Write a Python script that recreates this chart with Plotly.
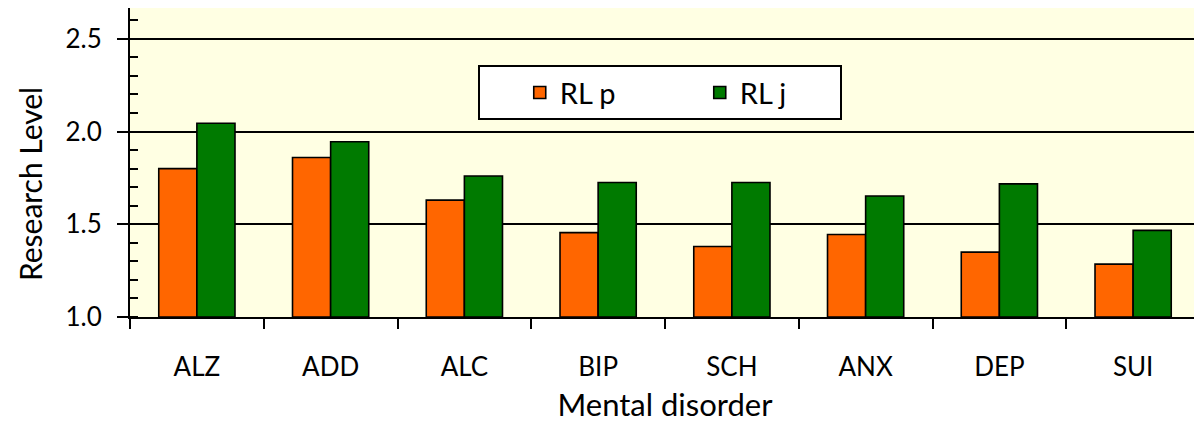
import plotly.graph_objects as go

categories = ["ALZ", "ADD", "ALC", "BIP", "SCH", "ANX", "DEP", "SUI"]
rl_p = [1.80, 1.86, 1.63, 1.455, 1.38, 1.445, 1.35, 1.285]
rl_j = [2.045, 1.945, 1.76, 1.725, 1.725, 1.652, 1.718, 1.467]
y_ticks = [1.0, 1.5, 2.0, 2.5]
BASE = 1.0

FONT = "Lato"
fig = go.Figure()
fig.add_trace(go.Bar(x=categories, y=[v - BASE for v in rl_p], base=BASE, name="RL p",
                     customdata=rl_p, hovertemplate="%{customdata}",
                     marker=dict(color="#FF6600", line=dict(color="black", width=1.6))))
fig.add_trace(go.Bar(x=categories, y=[v - BASE for v in rl_j], base=BASE, name="RL j",
                     customdata=rl_j, hovertemplate="%{customdata}",
                     marker=dict(color="#007A00", line=dict(color="black", width=1.6))))

# page body has an 8px default margin: size the figure so the plot area lands in place
fig.update_layout(
    width=1194, height=415,
    margin=dict(l=122, r=2, t=0, b=106),
    paper_bgcolor="white", plot_bgcolor="#FFFFE3",
    barmode="group", bargap=0.43, bargroupgap=0,
    font=dict(family=FONT, size=26, color="black"),
    showlegend=True,
    legend=dict(orientation="h", x=0.325, y=0.815, xanchor="left", yanchor="top",
                bgcolor="white", bordercolor="black", borderwidth=2,
                font=dict(family=FONT, size=29), entrywidth=95, indentation=40),
    xaxis=dict(title=dict(text="Mental disorder", standoff=13), tickson="boundaries",
               ticks="outside", ticklen=10, tickwidth=2, tickcolor="black",
               showline=True, linecolor="black", linewidth=2, showgrid=False,
               ticklabelstandoff=26, automargin=False),
    yaxis=dict(range=[1.0, 2.666],
               tickvals=y_ticks, ticktext=["1.0", "1.5", "2.0", "2.5"],
               ticks="outside", ticklen=11, tickwidth=2, tickcolor="black",
               showline=True, linecolor="black", linewidth=2,
               showgrid=True, gridcolor="black", gridwidth=2, zeroline=False,
               minor=dict(ticks="inside", dtick=0.1, tick0=0, ticklen=8, tickwidth=2,
                          tickcolor="black", showgrid=False),
               ticklabelstandoff=10, automargin=False),
    annotations=[dict(text="Research Level", textangle=-90, xref="paper", yref="paper",
                      x=-0.0935, y=0.43, xanchor="center", yanchor="middle",
                      showarrow=False, font=dict(family=FONT, size=30, color="black"))],
    shapes=[dict(type="line", xref="paper", yref="paper", x0=1, x1=1, y0=0, y1=1,
                 line=dict(color="#888888", width=2))],
)
fig.write_html("out.html")
